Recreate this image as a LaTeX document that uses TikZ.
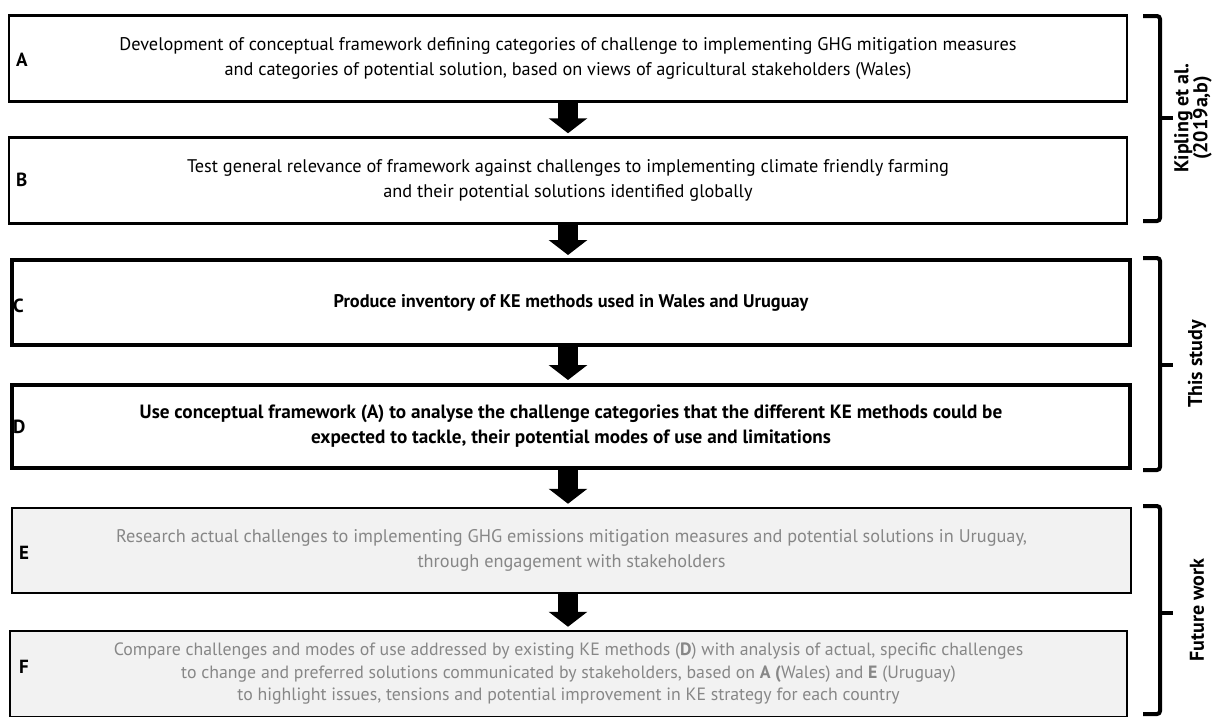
\documentclass[tikz,border=0pt]{standalone}
\usepackage{fontspec}
\setmainfont{PT Sans}
\usetikzlibrary{arrows.meta}
\definecolor{txtgray}{HTML}{878787}
\definecolor{boxgray}{HTML}{F2F2F2}
\tikzset{
  box/.style={draw=black, line width=2.5pt, inner sep=0pt, align=center,
    font=\fontsize{18.3}{24.5}\selectfont},
  thickbox/.style={box, line width=4pt, font=\fontsize{19.2}{25}\bfseries\selectfont},
  graybox/.style={box, fill=boxgray, text=txtgray},
  letter/.style={anchor=west, font=\fontsize{19}{21}\bfseries\selectfont, inner sep=0pt},
  bigarrow/.style={line width=20pt, -{Triangle[width=38pt,length=15pt]}, shorten >=3pt},
  brace/.style={line width=4pt, rounded corners=3pt},
  bracelabel/.style={rotate=90, align=center, font=\fontsize{20}{19}\bfseries\selectfont}
}
\begin{document}
\begin{tikzpicture}[x=1pt,y=-1pt]
\useasboundingbox (0,0) rectangle (1213,716);

\node[box, minimum width=1118pt, minimum height=86pt] (A) at (568,58.5)
  {Development of conceptual framework defining categories of challenge to implementing GHG mitigation measures\\
   and categories of potential solution, based on views of agricultural stakeholders (Wales)};
\node[box, minimum width=1118pt, minimum height=86pt] (B) at (568,180.5)
  {Test general relevance of framework against challenges to implementing climate friendly farming\\
   and their potential solutions identified globally};
\node[thickbox, minimum width=1118pt, minimum height=85pt, font=\fontsize{18.3}{25}\bfseries\selectfont] (C) at (571,302.5)
  {Produce inventory of KE methods used in Wales and Uruguay};
\node[thickbox, minimum width=1118pt, minimum height=83pt] (D) at (571,426.5)
  {Use conceptual framework (A) to analyse the challenge categories that the different KE methods could be\\
   expected to tackle, their potential modes of use and limitations};
\node[graybox, minimum width=1119pt, minimum height=85pt] (E) at (571.5,550.5)
  {Research actual challenges to implementing GHG emissions mitigation measures and potential solutions in Uruguay,\\
   through engagement with stakeholders};
\node[graybox, minimum width=1117pt, minimum height=86pt, font=\fontsize{17.8}{22.5}\selectfont] (F) at (568.5,674)
  {Compare challenges and modes of use addressed by existing KE methods (\textbf{D}) with analysis of actual, specific challenges\\
   to change and preferred solutions communicated by stakeholders, based on \textbf{A (}Wales) and \textbf{E} (Uruguay)\\
   to highlight issues, tensions and potential improvement in KE strategy for each country};

\node[letter] (lA) at (16,60) {A};
\node[letter] (lB) at (16,180) {B};
\node[letter] (lC) at (13,306) {C};
\node[letter] (lD) at (13,427) {D};
\node[letter] (lE) at (19,553) {E};
\node[letter] (lF) at (19,667) {F};

\draw[bigarrow] (A.south) -- (B.north);
\draw[bigarrow] (B.south) -- (C.north -| B.south);
\draw[bigarrow] (C.south -| B.south) -- (D.north -| B.south);
\draw[bigarrow] (D.south -| B.south) -- (E.north -| B.south);
\draw[bigarrow] (E.south -| B.south) -- (F.north -| B.south);

\draw[brace] (1143,16) -- (1160,16) -- (1160,221) -- (1143,221);
\draw[brace] (1160,118) -- (1173,118);
\draw[brace] (1143,258) -- (1160,258) -- (1160,470) -- (1143,470);
\draw[brace] (1160,365) -- (1173,365);
\draw[brace] (1143,506) -- (1160,506) -- (1160,714) -- (1143,714);
\draw[brace] (1160,613) -- (1173,613);

\node[bracelabel] (k) at (1193,118) {Kipling et al.\\(2019a,b)};
\node[bracelabel] (t) at (1197,364) {This study};
\node[bracelabel] (f) at (1197,610) {Future work};
\end{tikzpicture}
\end{document}
